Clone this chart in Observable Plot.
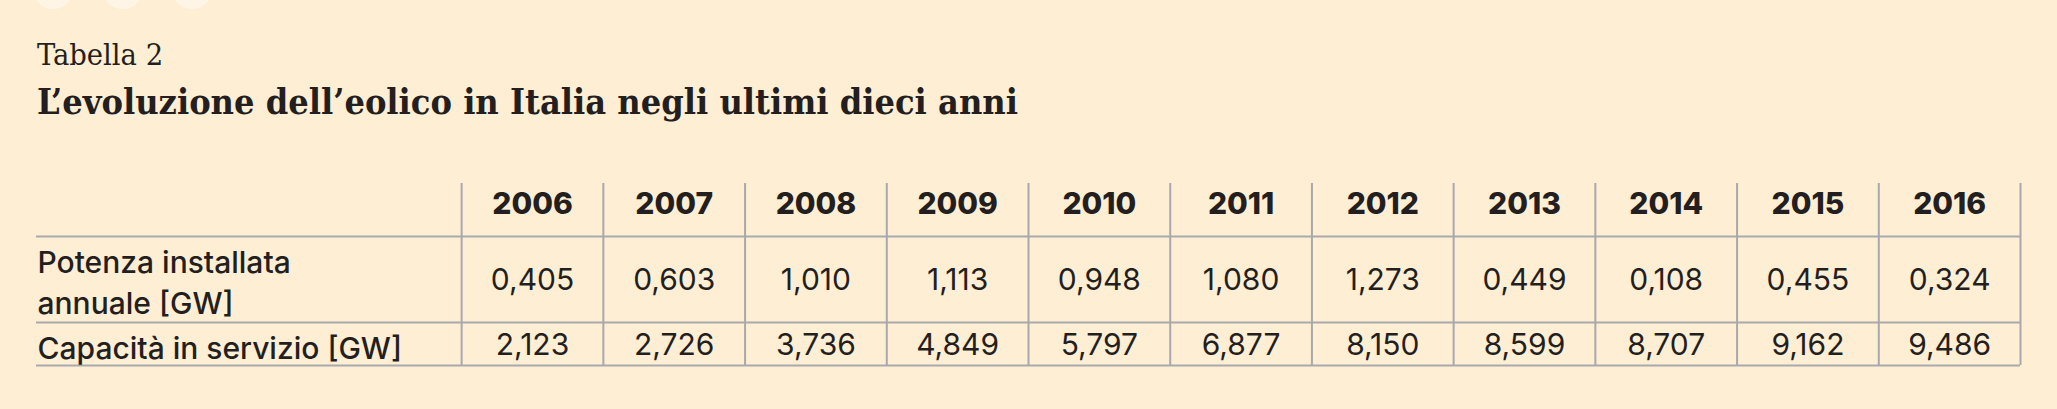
<!DOCTYPE html>
<html>
<head>
<meta charset="utf-8">
<script src="https://cdn.jsdelivr.net/npm/d3@7"></script>
<script src="https://cdn.jsdelivr.net/npm/@observablehq/plot@0.6"></script>
<style>
  html, body { margin: 0; padding: 0; background: #feeed4; }
  #page { position: relative; width: 2057px; height: 409px; overflow: hidden; }
  .dot { position: absolute; top: -31px; width: 40px; height: 40px; border-radius: 50%; background: #fff5e6; }
  #head { position: relative; height: 150px; }
  #kicker { position: absolute; left: 37px; top: 40px; font: 30.5px/1 "DejaVu Serif"; font-stretch: condensed; color: #231f20; white-space: nowrap; }
  #title { position: absolute; left: 37px; top: 84px; font: bold 35.8px/1 "DejaVu Serif"; font-stretch: condensed; color: #231f20; white-space: nowrap; }
</style>
</head>
<body>
<div id="page">
  <div class="dot" style="left:33px"></div>
  <div class="dot" style="left:103px"></div>
  <div class="dot" style="left:172px"></div>
  <div id="head">
    <div id="kicker">Tabella 2</div>
    <div id="title">L’evoluzione dell’eolico in Italia negli ultimi dieci anni</div>
  </div>
  <div id="chart"></div>
</div>
<script>
const years = [2006, 2007, 2008, 2009, 2010, 2011, 2012, 2013, 2014, 2015, 2016];
const potenza = [0.405, 0.603, 1.010, 1.113, 0.948, 1.080, 1.273, 0.449, 0.108, 0.455, 0.324];
const capacita = [2.123, 2.726, 3.736, 4.849, 5.797, 6.877, 8.150, 8.599, 8.707, 9.162, 9.486];
const rowLabels = ["Potenza installata\nannuale [GW]", "Capacità in servizio [GW]"];

// layout of the table (pixels from the top of the grid)
const rowEdges = [0, 53, 139, 182];
const headerY = 21, row1Y = 97, row2Y = 162;
const labelSpan = 3; // label column is three year-columns wide

const it = d3.formatLocale({decimal: ",", thousands: ".", grouping: [3], currency: ["€", ""]});
const fmt = it.format(".3f");

const ink = "#231f20";
const grid = "#a7a9ac";

const chart = Plot.plot({
  width: 2057,
  height: 259,
  margin: 0,
  style: {background: "transparent", fontFamily: "Inter"},
  x: {type: "linear", domain: [-labelSpan, years.length], range: [36, 2020], axis: null},
  y: {type: "linear", domain: [0, rowEdges[3]], range: [33, 33 + rowEdges[3]], axis: null},
  marks: [
    Plot.ruleX(d3.range(0, years.length + 1), {x: d => d, y1: 0, y2: rowEdges[3], stroke: grid, strokeWidth: 2}),
    Plot.ruleY(rowEdges.slice(1), {y: d => d, x1: -labelSpan, x2: years.length, stroke: grid, strokeWidth: 2}),
    Plot.text(years, {x: (d, i) => i + 0.5, y: headerY, text: d => String(d), fontSize: 30, fontWeight: 800, fill: ink}),
    Plot.text(potenza, {x: (d, i) => i + 0.5, y: row1Y, text: d => fmt(d), fontSize: 30, fill: ink}),
    Plot.text(capacita, {x: (d, i) => i + 0.5, y: row2Y, text: d => fmt(d), fontSize: 30, fill: ink}),
    Plot.text(rowLabels, {x: -labelSpan, dx: 1, y: (d, i) => i === 0 ? row1Y : row2Y, text: d => d, textAnchor: "start", lineHeight: 1.37, fontSize: 30, fontWeight: 500, fill: ink})
  ]
});
document.getElementById("chart").appendChild(chart);
</script>
</body>
</html>
